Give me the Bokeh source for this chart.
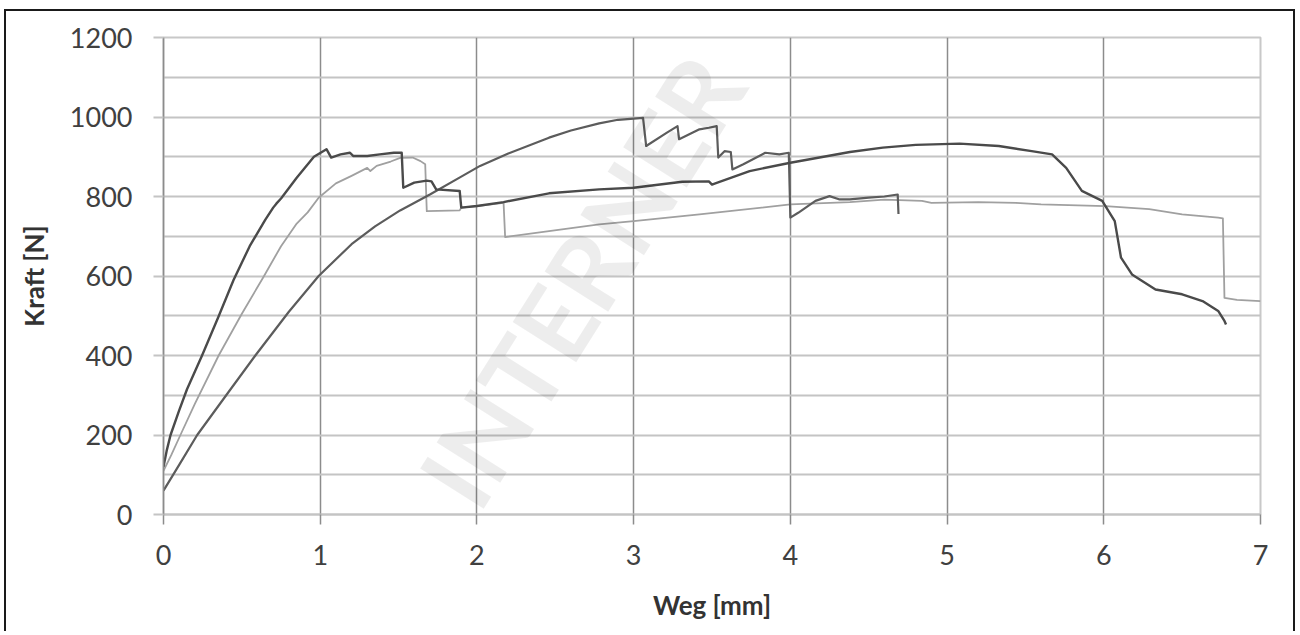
from bokeh.plotting import figure
from bokeh.models import Range1d, FixedTicker, Label
from bokeh.embed import file_html
from bokeh.resources import INLINE

# ---------------- data ----------------
x_ticks = [0, 1, 2, 3, 4, 5, 6, 7]
y_ticks = [0, 200, 400, 600, 800, 1000, 1200]
y_minor = [100, 300, 500, 700, 900, 1100]

# Series A (dark, steep rise, long middle path)
a_x = [0.0, 0.02, 0.045, 0.10, 0.15, 0.246, 0.35, 0.447, 0.55, 0.65, 0.70, 0.72, 0.75, 0.85,
       0.96, 1.04, 1.07, 1.13, 1.19, 1.21, 1.30, 1.38, 1.47, 1.52, 1.53, 1.60, 1.68, 1.71,
       1.74, 1.89, 1.90, 2.00, 2.17, 2.46, 2.78, 3.00, 3.31, 3.48, 3.50, 3.53, 3.74, 4.00,
       4.38, 4.59, 4.80, 5.08, 5.33, 5.54, 5.67, 5.76, 5.86, 5.99, 6.07, 6.11, 6.18, 6.33,
       6.50, 6.63, 6.73, 6.77, 6.78]
a_y = [120, 160, 200, 262, 315, 400, 497, 590, 675, 742, 772, 782, 795, 847,
       900, 919, 898, 906, 910, 902, 902, 906, 910, 910, 822, 835, 840, 838,
       818, 814, 772, 776, 786, 808, 818, 822, 837, 838, 830, 834, 864, 885,
       912, 923, 930, 933, 927, 914, 906, 872, 814, 789, 738, 646, 604, 566,
       554, 537, 512, 487, 478]

# Series B (light grey)
b_x = [0.0, 0.05, 0.108, 0.20, 0.352, 0.50, 0.637, 0.75, 0.85, 0.92, 0.99, 1.10, 1.20,
       1.30, 1.32, 1.36, 1.45, 1.51, 1.59, 1.64, 1.67, 1.68, 1.89, 1.90, 2.00, 2.17,
       2.18, 2.46, 2.78, 3.00, 3.42, 4.00, 4.38, 4.60, 4.84, 4.90, 5.20, 5.44, 5.60,
       6.01, 6.29, 6.50, 6.73, 6.76, 6.77, 6.85, 7.00]
b_y = [110, 150, 200, 278, 400, 505, 597, 675, 732, 760, 797, 833, 852,
       872, 864, 877, 888, 897, 898, 889, 881, 763, 765, 772, 776, 784,
       698, 713, 730, 738, 755, 780, 786, 792, 789, 784, 786, 784, 780,
       776, 768, 755, 747, 745, 545, 540, 537]

# Series C (dark, concave curve up to 1000, then sawtooth)
c_x = [0.0, 0.10, 0.215, 0.40, 0.586, 0.80, 0.99, 1.20, 1.35, 1.51, 1.70, 1.90, 2.02,
       2.20, 2.46, 2.60, 2.78, 2.90, 3.06, 3.08, 3.21, 3.28, 3.29, 3.42, 3.48, 3.53,
       3.54, 3.58, 3.62, 3.63, 3.70, 3.84, 3.93, 3.99, 4.00, 4.05, 4.16, 4.25, 4.31,
       4.38, 4.50, 4.60, 4.685, 4.69]
c_y = [60, 125, 200, 300, 400, 510, 600, 680, 725, 765, 805, 850, 877,
       908, 948, 966, 984, 993, 998, 927, 960, 977, 944, 969, 973, 977,
       898, 914, 912, 868, 881, 910, 906, 910, 747, 759, 789, 801, 793,
       793, 797, 800, 805, 756]

watermark_text = "INTERNER"

# ---------------- figure ----------------
p = figure(width=1291, height=622, output_backend="svg", toolbar_location=None,
           x_range=Range1d(0, 7), y_range=Range1d(0, 1200),
           min_border_left=157, min_border_right=37, min_border_top=26,
           min_border_bottom=119)
p.styles = {"margin-left": "4px", "margin-top": "9px",
            "border-left": "2px solid #1a1a1a", "border-top": "2px solid #1a1a1a",
            "border-right": "2px solid #1a1a1a"}
p.background_fill_color = "white"
p.border_fill_color = "white"
p.outline_line_color = "#c8c8c8"
p.outline_line_width = 2

# grids
p.xgrid.ticker = FixedTicker(ticks=[1, 2, 3, 4, 5, 6])
p.xgrid.grid_line_color = "#8c8c8c"
p.xgrid.grid_line_width = 1.5
p.yaxis.ticker = FixedTicker(ticks=y_ticks, minor_ticks=y_minor)
p.ygrid.grid_line_color = "#c4c4c4"
p.ygrid.grid_line_width = 2
p.ygrid.minor_grid_line_color = "#c4c4c4"
p.ygrid.minor_grid_line_width = 2

# axes
p.xaxis.ticker = FixedTicker(ticks=x_ticks)
for ax in (p.xaxis[0], p.yaxis[0]):
    ax.major_label_text_font = "Lato"
    ax.major_label_text_font_size = "27px"
    ax.major_label_text_color = "#404040"
    ax.axis_label_text_font = "Lato"
    ax.axis_label_text_font_size = "26px"
    ax.axis_label_text_font_style = "bold"
    ax.axis_label_text_color = "#333333"
    ax.major_tick_in = 0
    ax.major_tick_out = 10
    ax.minor_tick_line_color = None

p.xaxis.axis_label = "Weg [mm]"
p.xaxis.axis_line_color = "#c4c4c4"
p.xaxis.axis_line_width = 2
p.xaxis.major_tick_line_color = "#8c8c8c"
p.xaxis.major_tick_line_width = 1.5
p.xaxis.major_label_standoff = 20
p.xaxis.axis_label_standoff = 21

p.yaxis.axis_label = "Kraft [N]"
p.yaxis.axis_line_color = "#8c8c8c"
p.yaxis.axis_line_width = 1.5
p.yaxis.major_tick_line_color = "#c4c4c4"
p.yaxis.major_tick_line_width = 2
p.yaxis.major_label_standoff = 21
p.yaxis.axis_label_standoff = 17

# series
p.line(b_x, b_y, line_color="#a0a0a0", line_width=1.8, line_join="round")
p.line(c_x, c_y, line_color="#5c5c5c", line_width=2.2, line_join="round")
p.line(a_x, a_y, line_color="#4a4a4a", line_width=2.4, line_join="round")

# watermark (translucent overlay), kept wholly inside the plot area
wm = Label(x=2.66, y=590, text=watermark_text, angle=1.007, text_align="center",
           text_baseline="middle", text_font="Lato", text_font_style="bold",
           text_font_size="104px", text_color="black", text_alpha=0.07,
           level="overlay")
p.add_layout(wm)

open("out.html", "w").write(file_html(p, INLINE))
